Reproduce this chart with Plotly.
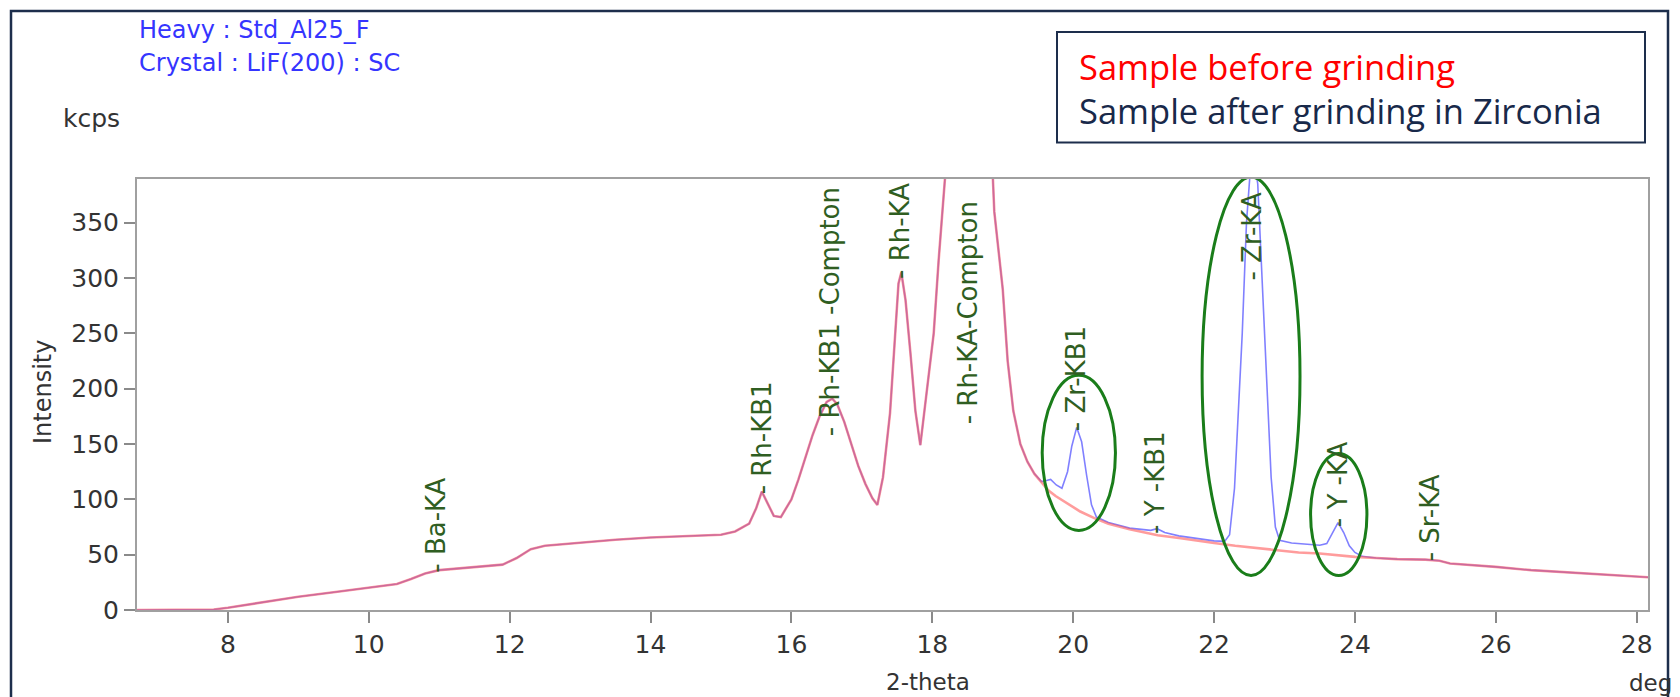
import plotly.graph_objects as go

# ---------------- data ----------------
before_x = [6.70, 7.00, 7.50, 7.80, 8.00, 8.50, 9.00, 9.50, 10.00, 10.40, 10.60, 10.80, 11.00, 11.50,
            11.90, 12.10, 12.30, 12.50, 13.00, 13.50, 14.00, 14.50, 15.00, 15.20, 15.40, 15.50, 15.58,
            15.65, 15.75, 15.85, 16.00, 16.10, 16.20, 16.30, 16.40, 16.50, 16.58, 16.65, 16.75, 16.85,
            16.95, 17.05, 17.15, 17.22, 17.30, 17.40, 17.47, 17.52, 17.56, 17.62, 17.69, 17.76, 17.83,
            17.92, 18.02, 18.09, 18.18, 18.30, 18.45, 18.55, 18.70, 18.80, 18.88, 19.00, 19.07, 19.15,
            19.25, 19.35, 19.45, 19.55, 19.65, 19.75, 19.85, 19.95, 20.10, 20.30, 20.50, 20.80, 21.00,
            21.20, 21.50, 21.80, 22.00, 22.30, 22.60, 22.90, 23.20, 23.50, 23.80, 24.00, 24.30, 24.60,
            25.00, 25.20, 25.35, 25.60, 26.00, 26.50, 27.00, 27.50, 28.00, 28.20]
before_y = [0, 0, 0, 0.5, 2, 7, 12, 16, 20, 23.5, 28, 33, 36, 38.5,
            41, 47, 55, 58, 61, 63.5, 65.5, 66.5, 68, 71, 78, 92, 107,
            98, 85, 84, 100, 118, 138, 158, 175, 188, 191, 186, 170, 150,
            130, 114, 101, 95, 120, 178, 250, 295, 305, 280, 232, 180, 149,
            196, 250, 316, 390, 600, 800, 850, 700, 480, 360, 290, 225, 180,
            150, 134, 123, 116, 108, 103, 99, 95, 89, 83, 78, 73, 70,
            67.5, 65, 62, 60.5, 58, 56, 54, 52, 51, 49, 48, 47, 46,
            45.5, 44.5, 42, 41, 39, 36, 34, 32, 30, 29.5]

after_x = [6.70, 7.00, 7.50, 7.80, 8.00, 8.50, 9.00, 9.50, 10.00, 10.40, 10.60, 10.80, 11.00, 11.50,
           11.90, 12.10, 12.30, 12.50, 13.00, 13.50, 14.00, 14.50, 15.00, 15.20, 15.40, 15.50, 15.58,
           15.65, 15.75, 15.85, 16.00, 16.10, 16.20, 16.30, 16.40, 16.50, 16.58, 16.65, 16.75, 16.85,
           16.95, 17.05, 17.15, 17.22, 17.30, 17.40, 17.47, 17.52, 17.56, 17.62, 17.69, 17.76, 17.83,
           17.92, 18.02, 18.09, 18.18, 18.30, 18.45, 18.55, 18.70, 18.80, 18.88, 19.00, 19.07, 19.15,
           19.25, 19.35, 19.45, 19.55, 19.62, 19.68, 19.76, 19.84, 19.92, 19.98, 20.05, 20.12, 20.19,
           20.26, 20.33, 20.50, 20.80, 21.00, 21.10, 21.19, 21.30, 21.50, 21.80, 22.00, 22.15, 22.22,
           22.29, 22.35, 22.40, 22.46, 22.54, 22.62, 22.68, 22.75, 22.81, 22.87, 22.93, 23.10, 23.30,
           23.50, 23.60, 23.68, 23.76, 23.84, 23.92, 24.00, 24.10, 24.30, 24.60, 25.00, 25.20, 25.35,
           25.60, 26.00, 26.50, 27.00, 27.50, 28.00, 28.20]
after_y = [0, 0, 0, 0.5, 2, 7, 12, 16, 20, 23.5, 28, 33, 36, 38.5,
           41, 47, 55, 58, 61, 63.5, 65.5, 66.5, 68, 71, 78, 92, 107,
           98, 85, 84, 100, 118, 138, 158, 175, 188, 191, 186, 170, 150,
           130, 114, 101, 95, 120, 178, 250, 295, 305, 280, 232, 180, 149,
           196, 250, 316, 390, 600, 800, 850, 700, 480, 360, 290, 225, 180,
           150, 134, 123, 116, 117, 118, 113, 110, 125, 148, 165, 152, 122,
           95, 84, 79, 74, 72.5, 72, 73.5, 70, 67, 64, 62.5, 62, 68,
           110, 180, 250, 350, 420, 385, 300, 196, 120, 75, 63, 60.5, 59.5,
           58.5, 60, 70, 79, 70, 58, 52, 48.5, 47, 46, 45.5, 44.5, 42,
           41, 39, 36, 34, 32, 30, 29.5]

peak_labels = ["- Ba-KA", "- Rh-KB1", "- Rh-KB1 -Compton", "- Rh-KA", "- Rh-KA-Compton",
               "- Zr-KB1", "- Y -KB1", "- Zr-KA", "- Y -KA", "- Sr-KA"]
peak_label_x = [10.95, 15.58, 16.55, 17.55, 18.50, 20.05, 21.17, 22.54, 23.76, 25.07]
peak_label_y = [32, 103, 155, 297, 166, 160, 67, 296, 73, 42]

# highlighted regions (x0, x1, y0, y1) in data units
ellipse_x0 = [19.56, 21.83, 23.37]
ellipse_x1 = [20.60, 23.22, 24.17]
ellipse_y0 = [71.9, 31.2, 31.2]
ellipse_y1 = [212.1, 391.3, 141.5]

x_ticks = [8, 10, 12, 14, 16, 18, 20, 22, 24, 26, 28]
y_ticks = [0, 50, 100, 150, 200, 250, 300, 350]

legend_texts = ["Sample before grinding", "Sample after grinding in Zirconia"]
header_texts = ["Heavy : Std_Al25_F", "Crystal : LiF(200) : SC"]

# ---------------- figure ----------------
FONT = "DejaVu Sans"
fig = go.Figure()
fig.add_trace(go.Scatter(x=after_x, y=after_y, mode="lines", name=legend_texts[1],
                         line=dict(color="rgba(60,60,255,0.65)", width=1.6)))
fig.add_trace(go.Scatter(x=before_x, y=before_y, mode="lines", name=legend_texts[0],
                         line=dict(color="rgba(255,90,90,0.6)", width=2.6)))

annotations = []
for t, x, y in zip(peak_labels, peak_label_x, peak_label_y):
    annotations.append(dict(x=x, y=y, xref="x", yref="y", text=t, showarrow=False,
                            textangle=-90, xanchor="center", yanchor="bottom",
                            font=dict(family=FONT, size=26, color="#2f5e22")))

shapes = []
for x0, x1, y0, y1 in zip(ellipse_x0, ellipse_x1, ellipse_y0, ellipse_y1):
    shapes.append(dict(type="circle", xref="x", yref="y", x0=x0, x1=x1, y0=y0, y1=y1,
                       line=dict(color="#1a7d1a", width=3), layer="above"))

L, R, T, B = 137, 32, 179, 87
W, H = 1680, 697
PW, PH = W - L - R, H - T - B


def px(xp):
    return (xp - L) / PW


def py(yp):
    return (H - B - yp) / PH


# outer frame
shapes.append(dict(type="rect", xref="paper", yref="paper", x0=px(11), x1=px(1668), y0=py(720), y1=py(11),
                   line=dict(color="#1d2e4c", width=2.5)))
# legend box
shapes.append(dict(type="rect", xref="paper", yref="paper", x0=px(1057), x1=px(1645), y0=py(142.5), y1=py(32),
                   line=dict(color="#1d2e4c", width=2)))

annotations += [
    dict(x=px(1077), y=py(66), xref="paper", yref="paper", text=legend_texts[0], showarrow=False,
         xanchor="left", yanchor="middle", font=dict(family="Open Sans", size=34.5, color="#ff0000")),
    dict(x=px(1077), y=py(110), xref="paper", yref="paper", text=legend_texts[1], showarrow=False,
         xanchor="left", yanchor="middle", font=dict(family="Open Sans", size=34.5, color="#18294a")),
    dict(x=px(137), y=py(30), xref="paper", yref="paper", text=header_texts[0], showarrow=False,
         xanchor="left", yanchor="middle", font=dict(family=FONT, size=24, color="#3535ff")),
    dict(x=px(137), y=py(63), xref="paper", yref="paper", text=header_texts[1], showarrow=False,
         xanchor="left", yanchor="middle", font=dict(family=FONT, size=24, color="#3535ff")),
    dict(x=px(91), y=py(118), xref="paper", yref="paper", text="kcps", showarrow=False,
         xanchor="center", yanchor="middle", font=dict(family=FONT, size=25, color="#333333")),
    dict(x=px(43), y=py(392), xref="paper", yref="paper", text="Intensity", showarrow=False,
         textangle=-90, xanchor="center", yanchor="middle", font=dict(family=FONT, size=24, color="#333333")),
    dict(x=px(928), y=py(682), xref="paper", yref="paper", text="2-theta", showarrow=False,
         xanchor="center", yanchor="middle", font=dict(family=FONT, size=23, color="#333333")),
    dict(x=px(1650), y=py(683), xref="paper", yref="paper", text="deg", showarrow=False,
         xanchor="center", yanchor="middle", font=dict(family=FONT, size=23, color="#333333")),
]

axis_common = dict(showgrid=False, zeroline=False, showline=True, mirror=True,
                   linecolor="#a0a0a0", linewidth=2, ticks="outside", ticklen=11,
                   tickwidth=1.5, tickcolor="#8a8a8a",
                   tickfont=dict(family=FONT, size=25, color="#333333"))

fig.update_layout(
    width=W, height=H,
    margin=dict(l=L, r=R, t=T, b=B),
    paper_bgcolor="white", plot_bgcolor="white",
    showlegend=False,
    xaxis=dict(range=[6.71, 28.16], tickvals=x_ticks, **axis_common),
    yaxis=dict(range=[0, 389.5], tickvals=y_ticks, **axis_common),
    annotations=annotations,
    shapes=shapes,
    font=dict(family=FONT),
)

fig.write_html("out.html")
